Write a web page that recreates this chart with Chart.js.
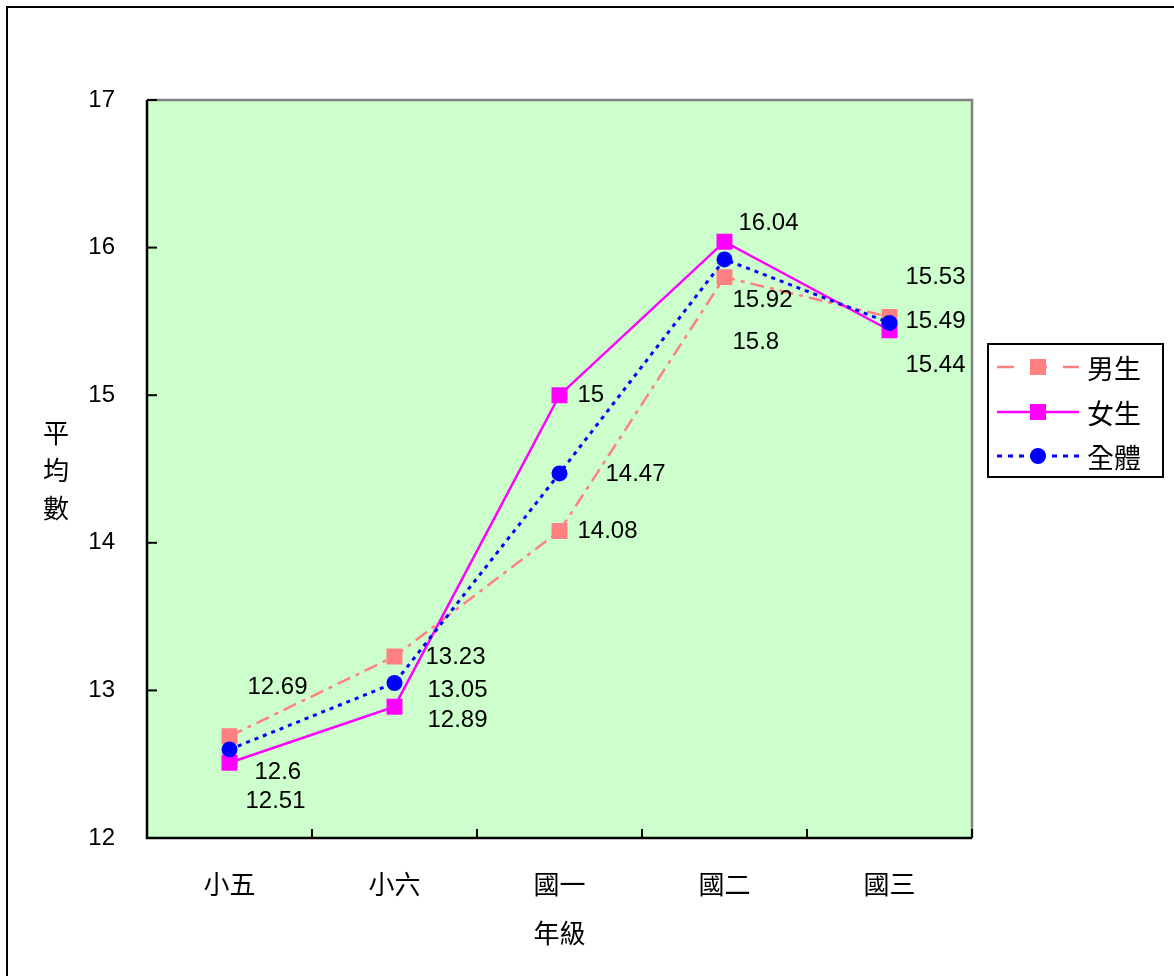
<!DOCTYPE html>
<html>
<head>
<meta charset="utf-8">
<script src="https://cdn.jsdelivr.net/npm/chart.js@4.4.1/dist/chart.umd.min.js"></script>
<style>
  html, body { margin: 0; padding: 0; background: #ffffff; }
  #wrap { width: 1174px; height: 976px; position: relative; }
</style>
</head>
<body>
<div id="wrap"><canvas id="c" width="1174" height="976"></canvas></div>
<script>
// ---- data ----
const categories = ['小五', '小六', '國一', '國二', '國三'];
const seriesNames = ['男生', '女生', '全體'];
const boys  = [12.69, 13.23, 14.08, 15.8, 15.53];
const girls = [12.51, 12.89, 15, 16.04, 15.44];
const total = [12.6, 13.05, 14.47, 15.92, 15.49];
const yTicks = [12, 13, 14, 15, 16, 17];
const xTitle = '年級';
const yTitle = ['平', '均', '數'];

// ---- styling (label offsets in px relative to each point) ----
const labelOffsets = [
  [[18, -49], [31, 1], [18, 0], [8, 65], [16, -40]],
  [[16, 39], [33, 14], [18, 0], [14, -18], [16, 35]],
  [[25, 23], [33, 7], [46, 1], [8, 41], [16, -2]]
];
const colors = ['#FF8080', '#FF00FF', '#0000FF'];
const CJK = '"Noto Sans CJK TC", "Noto Sans CJK SC", sans-serif';
const LAT = '"Liberation Sans", Arial, sans-serif';

const decor = {
  id: 'decor',
  beforeDraw(chart) {
    const ctx = chart.ctx, a = chart.chartArea;
    ctx.save();
    ctx.fillStyle = '#fff';
    ctx.fillRect(0, 0, chart.width, chart.height);
    ctx.strokeStyle = '#000';
    ctx.lineWidth = 2;
    ctx.beginPath();
    ctx.moveTo(7, 980); ctx.lineTo(7, 7); ctx.lineTo(1180, 7);
    ctx.stroke();
    ctx.fillStyle = '#CCFFCC';
    ctx.fillRect(a.left, a.top, a.right - a.left, a.bottom - a.top);
    ctx.restore();
  },
  beforeDatasetsDraw(chart) {
    const ctx = chart.ctx, a = chart.chartArea;
    const xs = chart.scales.x, ys = chart.scales.y;
    ctx.save();
    ctx.strokeStyle = '#808080';
    ctx.lineWidth = 2.5;
    ctx.beginPath();
    ctx.moveTo(a.left, a.top); ctx.lineTo(a.right, a.top); ctx.lineTo(a.right, a.bottom);
    ctx.stroke();
    ctx.strokeStyle = '#000';
    ctx.lineWidth = 2.5;
    ctx.beginPath();
    ctx.moveTo(a.left, a.top); ctx.lineTo(a.left, a.bottom); ctx.lineTo(a.right, a.bottom);
    ctx.stroke();
    ctx.lineWidth = 2;
    yTicks.forEach(v => {
      const y = ys.getPixelForValue(v);
      ctx.beginPath(); ctx.moveTo(a.left, y); ctx.lineTo(a.left + 10, y); ctx.stroke();
    });
    const half = (xs.getPixelForValue(1) - xs.getPixelForValue(0)) / 2;
    categories.forEach((c, i) => {
      const x = xs.getPixelForValue(i) + half;
      ctx.beginPath(); ctx.moveTo(x, a.bottom); ctx.lineTo(x, a.bottom - 9); ctx.stroke();
    });
    ctx.restore();
  },
  afterDraw(chart) {
    const ctx = chart.ctx, a = chart.chartArea;
    const xs = chart.scales.x, ys = chart.scales.y;
    ctx.save();
    ctx.fillStyle = '#000';
    ctx.font = '24px ' + LAT;
    ctx.textAlign = 'left';
    ctx.textBaseline = 'middle';
    [boys, girls, total].forEach((arr, s) => {
      arr.forEach((v, i) => {
        const x = xs.getPixelForValue(i), y = ys.getPixelForValue(v);
        const o = labelOffsets[s][i];
        ctx.fillText(String(v), x + o[0], y + o[1]);
      });
    });
    ctx.font = '26px ' + CJK;
    ctx.textAlign = 'center';
    ctx.fillText(xTitle, (a.left + a.right) / 2, 933);
    yTitle.forEach((ch, i) => ctx.fillText(ch, 56, 433 + i * 37.5));
    const L = 988, T = 344, R = 1163, B = 477;
    ctx.strokeStyle = '#000';
    ctx.lineWidth = 2;
    ctx.strokeRect(L, T, R - L, B - T);
    const rows = [367, 412, 456];
    const dashes = [[17, 16], [], [5, 6]];
    const widths = [2.5, 2.5, 3];
    rows.forEach((y, s) => {
      ctx.strokeStyle = colors[s];
      ctx.lineWidth = widths[s];
      ctx.setLineDash(dashes[s]);
      ctx.beginPath(); ctx.moveTo(997, y); ctx.lineTo(1079, y); ctx.stroke();
      ctx.setLineDash([]);
      ctx.fillStyle = colors[s];
      if (s < 2) ctx.fillRect(1030, y - 8, 16, 16);
      else { ctx.beginPath(); ctx.arc(1038, y, 8, 0, Math.PI * 2); ctx.fill(); }
      ctx.fillStyle = '#000';
      ctx.textAlign = 'left';
      ctx.font = '27px ' + CJK;
      ctx.fillText(seriesNames[s], 1087, y + 2);
    });
    ctx.restore();
  }
};

new Chart(document.getElementById('c'), {
  type: 'line',
  data: {
    labels: categories,
    datasets: [
      { label: seriesNames[0], data: boys, borderColor: colors[0], backgroundColor: colors[0],
        borderWidth: 2.5, borderDash: [14, 6, 4, 6], pointStyle: 'rect', pointRadius: 11.3,
        pointHoverRadius: 11.3, pointBorderWidth: 0, order: 2, tension: 0 },
      { label: seriesNames[1], data: girls, borderColor: colors[1], backgroundColor: colors[1],
        borderWidth: 2.5, pointStyle: 'rect', pointRadius: 11.3, pointHoverRadius: 11.3,
        pointBorderWidth: 0, order: 1, tension: 0 },
      { label: seriesNames[2], data: total, borderColor: colors[2], backgroundColor: colors[2],
        borderWidth: 3, borderDash: [4, 5], pointStyle: 'circle', pointRadius: 8,
        pointHoverRadius: 8, pointBorderWidth: 0, order: 0, tension: 0 }
    ]
  },
  options: {
    responsive: false,
    animation: false,
    events: [],
    layout: { padding: { top: 100, right: 202, left: 0, bottom: 0 } },
    plugins: { legend: { display: false }, tooltip: { enabled: false } },
    scales: {
      x: {
        type: 'category',
        offset: true,
        grid: { display: false, drawTicks: false },
        border: { display: false },
        ticks: { color: '#000', font: { family: CJK, size: 26 }, padding: 31, maxRotation: 0 },
        afterFit(s) { s.height = 138; }
      },
      y: {
        type: 'linear',
        min: 12, max: 17,
        afterBuildTicks(s) { s.ticks = yTicks.map(v => ({ value: v })); },
        grid: { display: false, drawTicks: false },
        border: { display: false },
        ticks: { color: '#000', font: { family: LAT, size: 24 }, padding: 32 },
        afterFit(s) { s.width = 147; }
      }
    }
  },
  plugins: [decor]
});
</script>
</body>
</html>
